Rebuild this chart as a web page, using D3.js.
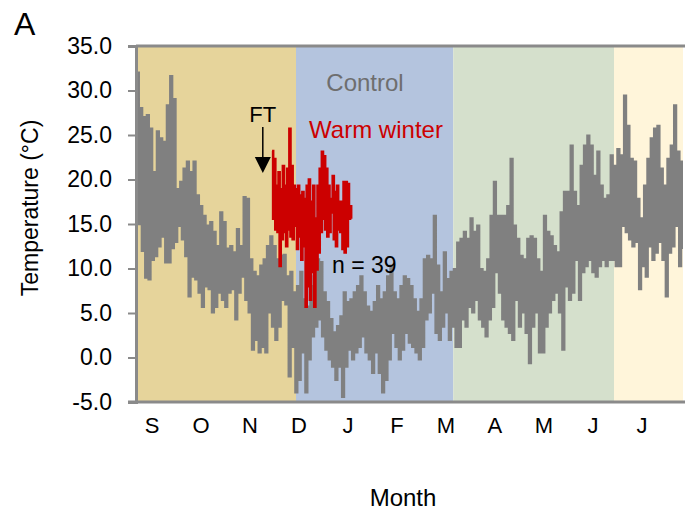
<!DOCTYPE html>
<html>
<head>
<meta charset="utf-8">
<script src="https://cdn.jsdelivr.net/npm/d3@7"></script>
<style>
  body { margin: 0; background: #fff; }
  text { font-family: "Liberation Sans", Arial, sans-serif; }
</style>
</head>
<body>
<div id="chart"></div>
<script>
// season bands (days since 1 Sep), end of record
const seasonStart = [0, 91, 181, 273];
const seasonColor = ['#e6d49b', '#b4c4de', '#d5e0cc', '#fff5da'];
const recordEnd = 312.5;

const monthLabels = ['S', 'O', 'N', 'D', 'J', 'F', 'M', 'A', 'M', 'J', 'J'];
const yTicks = [-5, 0, 5, 10, 15, 20, 25, 30, 35];

// control: alternating high / low readings, one pair every stepDays
const controlStart = 0;
const controlStep = 1.91;
const controlHigh = [32, 28, 27, 27.2, 25.7, 20.8, 25.4, 24.6, 24.2, 28.3, 31.6, 29, 18.9, 19.7, 21.2, 22, 20.8, 22, 18.2, 17,
  15.9, 14.8, 15.2, 14.1, 12.5, 16.3, 15.2, 12.2, 12.5, 11.8, 14.4, 12.5, 18, 17.8, 11, 9.6, 9.1, 10.3, 11, 12.5,
  13.6, 12.5, 11, 11.4, 11.5, 9.1, 9.6, 7.3, 8, 9.6, 6.5, 5.7, 8, 9.1, 11, 10.7, 7.3, 6.2, 4.3, 2.8,
  3.5, 4.6, 7.3, 6.2, 6.5, 7.3, 8, 9.1, 7.3, 5.7, 5.1, 6.2, 8, 6.5, 7.3, 9.1, 10.3, 7.3, 6.5, 8,
  9.1, 8.8, 8, 6.5, 5.1, 6.5, 11, 11.4, 11, 15.9, 10.3, 7.3, 11.8, 8.8, 9.6, 9.9, 12.9, 13.3, 14.1, 13.3,
  15.6, 14.1, 14.8, 9.9, 9.6, 11, 15.9, 19.7, 15.9, 15.9, 15.9, 17, 22.3, 14.8, 13.3, 11.4, 11, 13.3, 13.6, 13.3,
  11, 9.6, 15.9, 14.1, 13.6, 12.5, 11.8, 16.3, 18.6, 18.6, 23.8, 18.6, 17, 21.5, 23.8, 24.9, 23.8, 20.4, 23.1, 19.3,
  17.8, 18.2, 22.7, 21.5, 23.4, 22.7, 29.4, 26, 22.3, 22, 17.8, 15.6, 19.3, 22.3, 24.6, 25.7, 26, 21.2, 19.3, 22.3,
  23.8, 28.3, 23.1, 22];
const controlLow = [15, 12, 9, 8.8, 11, 11.4, 12.5, 13.6, 10.7, 10.7, 12.3, 13, 14.8, 13.3, 11.4, 6.9, 9.1, 8.8, 7.3, 5.7,
  8, 7.7, 5.1, 5.7, 7.3, 6.5, 5.7, 7.3, 7.7, 4.3, 7.3, 9.1, 6.5, 5.1, 0.9, 2, 0.6, 1.2, 0.6, 5.1,
  3.5, 2, 3.5, 6.5, 6, -2.1, 1.2, -3.9, -2.5, 0.6, -3.9, -0.2, 2.4, 3.5, 4.3, 2.4, 0.9, -0.2, -1, -2.5,
  -1, -4.4, -1, 0.9, -0.2, 0.6, 1.2, 2.4, 0.6, -0.2, -1.7, 0.6, -1.7, -3.9, -2.5, -0.2, 2.8, 1.2, -0.2, 0.9,
  2.8, 1.7, 1.2, 0.6, -0.2, 1.2, 4.3, 5.1, 7.3, 2.8, 2, 3.5, 5.1, 2, 3.5, 1.2, 1.2, 4.3, 3.5, 5.7,
  5.1, 6.5, 4.3, 3.5, 2.4, 4.3, 5.7, 9.6, 7.3, 4.3, 3.5, 2.8, 2, 6.5, 3.5, 5.1, 2.8, -0.6, 3.5, 5.1,
  0.6, 0.6, 3.5, 5.1, 6.5, 7.3, 5.1, 0.9, 8, 6.5, 7.3, 11, 6.5, 9.6, 10.3, 11, 9.6, 9.1, 10.3, 11,
  10.3, 11, 11, 10.3, 10.3, 14.8, 14.1, 13.3, 12.5, 13, 7.7, 10.3, 9.1, 12.5, 11, 11.8, 13, 11, 6.9, 11.8,
  12.5, 14.8, 10.3, 12.2];

// warm winter treatment, starts after FT transfer
const ftDay = 72;
const warmStart = 77.3;
const warmStep = 1.24;
const warmHigh = [23.2, 22.3, 19.3, 20.8, 18.9, 21.5, 19.3, 21.2, 25.7, 21.5, 19.3, 18.9, 19.3, 18.2, 18.6, 17.8, 19.3, 20, 17.5,
  19.3, 15.6, 19.3, 21.2, 23.1, 22.6, 21.2, 19.3, 17.8, 20.4, 18.6, 19.3, 17.5, 17.5, 19.7, 19.7, 19.5, 17];
const warmLow = [15.6, 14.4, 14.1, 10.3, 13.3, 14.1, 12.5, 14.4, 13.6, 13.3, 14.8, 12.2, 13.6, 11, 12.5, 5.7, 8, 6.5, 9.6,
  5.7, 9.9, 11.8, 14.1, 15.6, 14.4, 13.6, 14.1, 16.3, 13.3, 12.5, 14.4, 14.1, 12.2, 11.8, 12.5, 15.6, 15.6];

const width = 685, height = 512;
const margin = { left: 137, right: 2, top: 46, bottom: 110 };

const svg = d3.select('#chart').append('svg')
  .attr('width', width)
  .attr('height', height);

const x = d3.scaleLinear().domain([0, recordEnd]).range([margin.left, width - margin.right]);
const y = d3.scaleLinear().domain([-5, 35]).range([height - margin.bottom, margin.top]);

// background seasons
svg.append('g').selectAll('rect')
  .data(seasonStart)
  .join('rect')
  .attr('x', d => x(d))
  .attr('width', (d, i) => x(i < seasonStart.length - 1 ? seasonStart[i + 1] : recordEnd) - x(d))
  .attr('y', y(35))
  .attr('height', y(-5) - y(35))
  .attr('fill', (d, i) => seasonColor[i]);

svg.append('clipPath').attr('id', 'plotClip')
  .append('rect')
  .attr('x', x(0)).attr('y', y(35))
  .attr('width', x(recordEnd) - x(0)).attr('height', y(-5) - y(35));

function zigzag(start, step, hi, lo) {
  const pts = [];
  hi.forEach((h, i) => {
    pts.push([start + i * step, h]);
    pts.push([start + (i + 0.5) * step, lo[i]]);
  });
  return pts;
}

const line = d3.line().x(d => x(d[0])).y(d => y(d[1])).curve(d3.curveStepAfter);

const lines = svg.append('g').attr('clip-path', 'url(#plotClip)');
lines.append('path')
  .attr('d', line(zigzag(controlStart, controlStep, controlHigh, controlLow)))
  .attr('fill', 'none')
  .attr('stroke', '#808080')
  .attr('stroke-width', 2.6);
lines.append('path')
  .attr('d', line(zigzag(warmStart, warmStep, warmHigh, warmLow)))
  .attr('fill', 'none')
  .attr('stroke', '#cc0000')
  .attr('stroke-width', 2.6);

// axes frame
const axisColor = '#8a8a8a';
svg.append('line')
  .attr('x1', x(0) - 1).attr('x2', width)
  .attr('y1', y(35)).attr('y2', y(35))
  .attr('stroke', axisColor).attr('stroke-width', 3);

const yAxis = svg.append('g')
  .attr('transform', `translate(${x(0) - 1},0)`)
  .call(d3.axisLeft(y).tickValues(yTicks).tickSize(8).tickPadding(16).tickFormat(d => d.toFixed(1)));
yAxis.select('.domain').attr('stroke', axisColor).attr('stroke-width', 3);
yAxis.selectAll('.tick line').attr('stroke', axisColor).attr('stroke-width', 2);
yAxis.selectAll('.tick text')
  .attr('fill', '#000')
  .style('font-size', '23px')
  .style('font-family', '"Liberation Sans", Arial, sans-serif');

svg.append('line')
  .attr('x1', x(0) - 9).attr('x2', width)
  .attr('y1', y(-5)).attr('y2', y(-5))
  .attr('stroke', axisColor).attr('stroke-width', 3);

const monthX = d3.scalePoint()
  .domain(d3.range(monthLabels.length))
  .range([x(8.6), x(289)]);
svg.append('g').selectAll('text')
  .data(monthLabels)
  .join('text')
  .attr('x', (d, i) => monthX(i))
  .attr('y', y(-5) + 31)
  .attr('text-anchor', 'middle')
  .style('font-size', '22px')
  .text(d => d);

// titles
svg.append('text')
  .attr('x', 14).attr('y', 35)
  .style('font-size', '32px')
  .text('A');

svg.append('text')
  .attr('transform', `translate(38,${(y(35) + y(-5)) / 2 - 16}) rotate(-90)`)
  .attr('text-anchor', 'middle')
  .style('font-size', '23px')
  .text('Temperature (°C)');

svg.append('text')
  .attr('x', 403).attr('y', 506)
  .attr('text-anchor', 'middle')
  .style('font-size', '24px')
  .text('Month');

// annotations
svg.append('text')
  .attr('x', 365).attr('y', 91)
  .attr('text-anchor', 'middle')
  .attr('fill', '#6e6e6e')
  .style('font-size', '24px')
  .text('Control');

svg.append('text')
  .attr('x', 376).attr('y', 138)
  .attr('text-anchor', 'middle')
  .attr('fill', '#cc0000')
  .style('font-size', '24px')
  .text('Warm winter');

svg.append('text')
  .attr('x', 332).attr('y', 273)
  .style('font-size', '23px')
  .text('n = 39');

svg.append('text')
  .attr('x', x(ftDay)).attr('y', 122)
  .attr('text-anchor', 'middle')
  .style('font-size', '22px')
  .text('FT');

svg.append('line')
  .attr('x1', x(ftDay)).attr('x2', x(ftDay))
  .attr('y1', 127).attr('y2', 159)
  .attr('stroke', '#000').attr('stroke-width', 1.5);
svg.append('path')
  .attr('d', `M${x(ftDay) - 8},157 L${x(ftDay) + 8},157 L${x(ftDay)},173 Z`)
  .attr('fill', '#000');
</script>
</body>
</html>
